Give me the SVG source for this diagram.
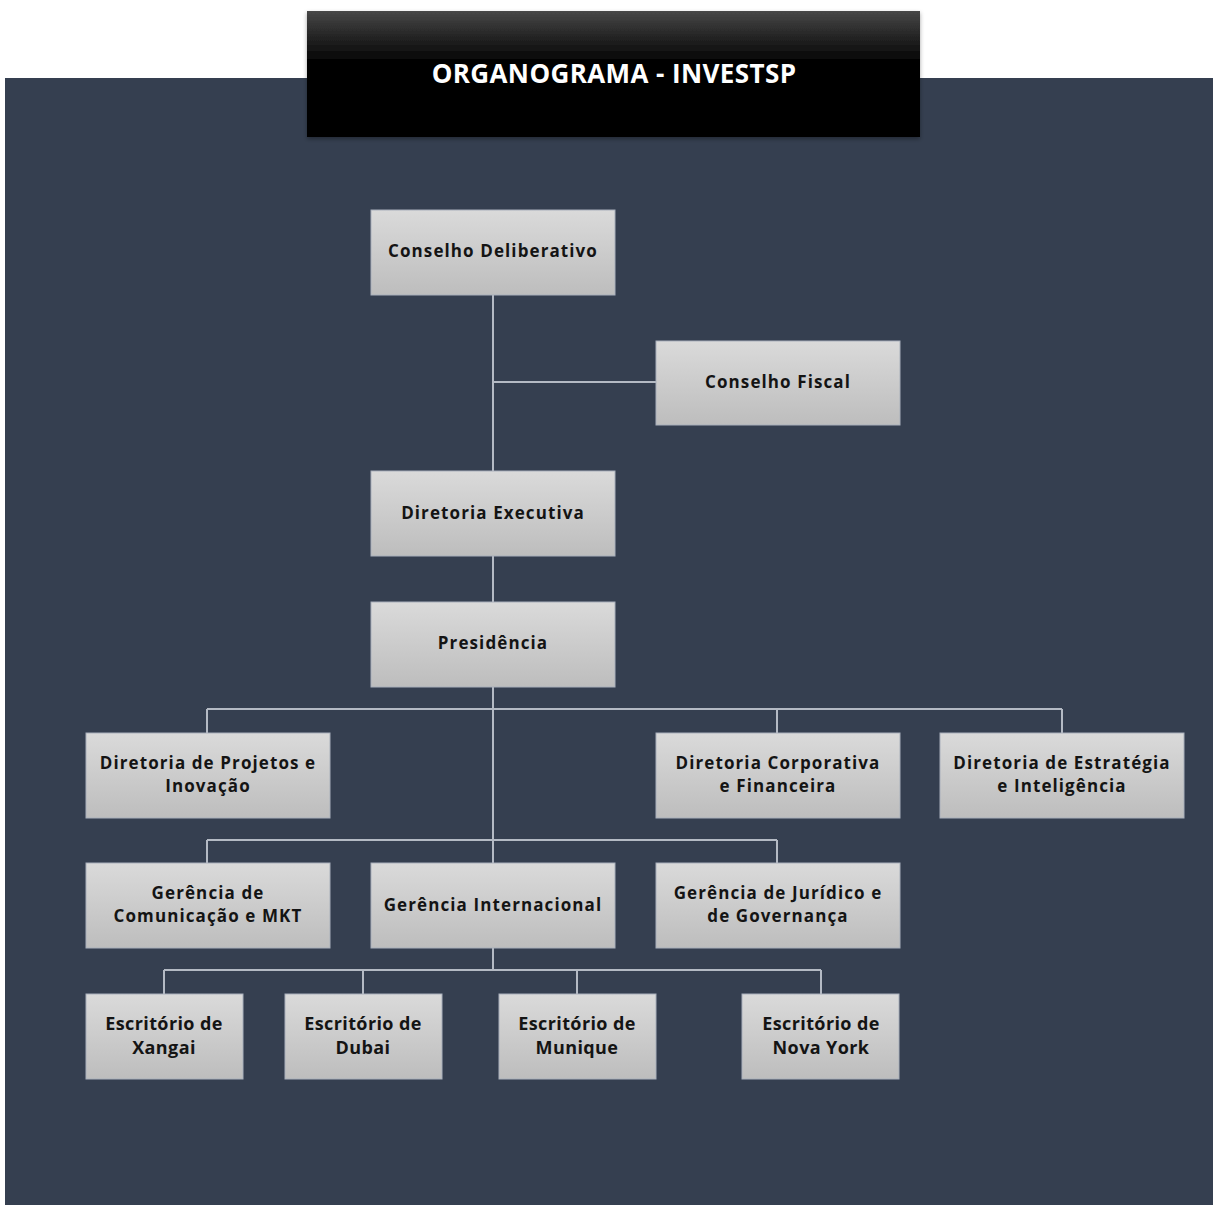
<svg xmlns="http://www.w3.org/2000/svg" width="1213" height="1205" viewBox="0 0 1213 1205">
<defs>
<linearGradient id="nodeFill" x1="0" y1="0" x2="0" y2="1">
<stop offset="0" stop-color="#dadada"/>
<stop offset="1" stop-color="#bdbdbd"/>
</linearGradient>
<linearGradient id="titleFill" x1="0" y1="0" x2="0" y2="1">
<stop offset="0" stop-color="#474747"/>
<stop offset="0.42" stop-color="#000"/>
<stop offset="1" stop-color="#000"/>
</linearGradient>
<filter id="shadow" x="-10%" y="-10%" width="120%" height="130%">
<feDropShadow dx="0" dy="2" stdDeviation="2" flood-color="#000" flood-opacity="0.35"/>
</filter>
</defs>
<style>
.node rect{fill:url(#nodeFill);stroke:#a9b0bb;stroke-width:1}
.node text{font-family:"Open Sans","Noto Sans",sans-serif;font-weight:700;font-size:17px;fill:#141414;text-anchor:middle;letter-spacing:1.1px}
.cond text{font-size:18px;letter-spacing:0.4px}
.conn{stroke:#b4bac4;stroke-width:2;fill:none}
</style>
<rect x="0" y="0" width="1213" height="1205" fill="#ffffff"/>
<rect x="5" y="78" width="1208" height="1127" fill="#353f50"/>
<g id="title">
<rect x="307" y="11" width="613" height="126" fill="url(#titleFill)" filter="url(#shadow)"/>
<text x="614" y="83" font-family="'Open Sans','Noto Sans',sans-serif" font-weight="700" font-size="26" letter-spacing="0.4" fill="#ffffff" text-anchor="middle">ORGANOGRAMA - INVESTSP</text>
</g>
<g id="connectors" class="conn">
<path class="conn" d="M493 295V471M493 382H656M493 556V602M493 687V863M207 709H1062M207 709V733M777 709V733M1062 709V733M207 840H777M207 840V863M777 840V863M493 948V970M164 970H821M164 970V994M363 970V994M577 970V994M821 970V994"/>
</g>
<g id="n-conselho-deliberativo" class="node"><rect x="371" y="210" width="244" height="85"/><text x="493" y="257">Conselho Deliberativo</text></g>
<g id="n-conselho-fiscal" class="node"><rect x="656" y="341" width="244" height="84"/><text x="778" y="388">Conselho Fiscal</text></g>
<g id="n-diretoria-executiva" class="node"><rect x="371" y="471" width="244" height="85"/><text x="493" y="519">Diretoria Executiva</text></g>
<g id="n-presidencia" class="node"><rect x="371" y="602" width="244" height="85"/><text x="493" y="649">Presidência</text></g>
<g id="n-dir-projetos" class="node"><rect x="86" y="733" width="244" height="85"/><text x="208" y="769">Diretoria de Projetos e</text><text x="208" y="792">Inovação</text></g>
<g id="n-dir-corporativa" class="node"><rect x="656" y="733" width="244" height="85"/><text x="778" y="769">Diretoria Corporativa</text><text x="778" y="792">e Financeira</text></g>
<g id="n-dir-estrategia" class="node"><rect x="940" y="733" width="244" height="85"/><text x="1062" y="769">Diretoria de Estratégia</text><text x="1062" y="792">e Inteligência</text></g>
<g id="n-ger-comunicacao" class="node"><rect x="86" y="863" width="244" height="85"/><text x="208" y="899">Gerência de</text><text x="208" y="922">Comunicação e MKT</text></g>
<g id="n-ger-internacional" class="node"><rect x="371" y="863" width="244" height="85"/><text x="493" y="911">Gerência Internacional</text></g>
<g id="n-ger-juridico" class="node"><rect x="656" y="863" width="244" height="85"/><text x="778" y="899">Gerência de Jurídico e</text><text x="778" y="922">de Governança</text></g>
<g id="n-esc-xangai" class="node cond"><rect x="86" y="994" width="157" height="85"/><text x="164" y="1030">Escritório de</text><text x="164" y="1054">Xangai</text></g>
<g id="n-esc-dubai" class="node cond"><rect x="285" y="994" width="157" height="85"/><text x="363" y="1030">Escritório de</text><text x="363" y="1054">Dubai</text></g>
<g id="n-esc-munique" class="node cond"><rect x="499" y="994" width="157" height="85"/><text x="577" y="1030">Escritório de</text><text x="577" y="1054">Munique</text></g>
<g id="n-esc-novayork" class="node cond"><rect x="742" y="994" width="157" height="85"/><text x="821" y="1030">Escritório de</text><text x="821" y="1054">Nova York</text></g>
</svg>
